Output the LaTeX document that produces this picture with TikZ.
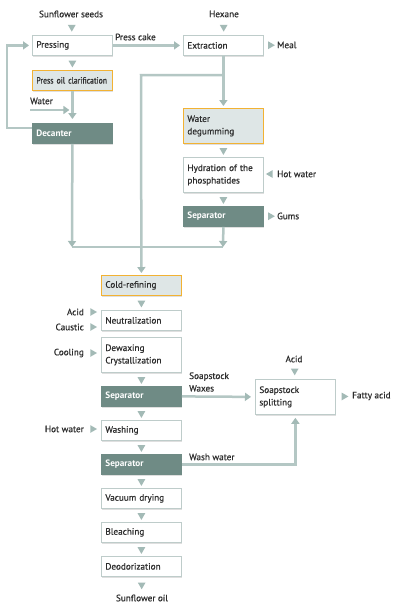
\documentclass[tikz,border=0pt]{standalone}
\usepackage{fontspec}
\setmainfont{PT Sans}
\newfontface\semib{PT Sans}[FakeBold=0.6]
\newfontface\narrowsemib{PT Sans}[FakeBold=0.6,FakeStretch=0.86]
\usetikzlibrary{arrows.meta,shadows,shapes.geometric}
\definecolor{lineC}{RGB}{180,199,196}
\definecolor{triC}{RGB}{163,186,182}
\definecolor{boxC}{RGB}{190,204,202}
\definecolor{orangeC}{RGB}{242,178,51}
\definecolor{lightC}{RGB}{222,230,230}
\definecolor{darkC}{RGB}{111,139,133}
\definecolor{txtC}{RGB}{45,45,45}
\newcommand{\fs}{\semib\fontsize{9.2}{12.5}\selectfont}
\newcommand{\fsb}{\normalfont\bfseries\fontsize{9.2}{12.5}\selectfont}
\tikzset{
  box/.style={draw=boxC, line width=0.8pt, fill=white, anchor=north west,
    minimum width=80pt, minimum height=20pt, text width=72pt, inner xsep=4pt,
    inner ysep=2pt, align=left, font=\fs, text=txtC,
    drop shadow={shadow xshift=1pt, shadow yshift=-1.2pt, opacity=0.25, fill=gray}},
  hibox/.style={box, draw=orangeC, fill=lightC},
  darkbox/.style={box, draw=darkC, fill=darkC, text=white, font=\fsb},
  tall/.style={minimum height=35pt},
  lbl/.style={font=\fs, text=txtC, inner sep=0pt},
  tri/.style={regular polygon, regular polygon sides=3, fill=triC, minimum size=9pt, inner sep=0pt},
  trid/.style={tri, shape border rotate=180},
  trir/.style={tri, shape border rotate=-90},
  tril/.style={tri, shape border rotate=90},
  flow/.style={draw=lineC, line width=2.5pt, -{Triangle[width=8pt,length=6pt,color=triC]}},
  plain/.style={draw=lineC, line width=2.5pt},
}
\begin{document}
\begin{tikzpicture}[x=1pt,y=-1pt]
\useasboundingbox[fill=white] (0,0) rectangle (401,606);

% boxes
\node[box] (press) at (32,35) {Pressing};
\node[hibox] (clar) at (32,70) {\narrowsemib\fontsize{9}{12}\selectfont Press oil clarification};
\node[darkbox] (dec) at (32,123) {Decanter};
\node[box] (extr) at (183,35) {Extraction};
\node[hibox, tall] (wdeg) at (183,108) {Water\\degumming};
\node[box, tall] (hydr) at (183,157) {Hydration of the\\phosphatides};
\node[darkbox] (sep1) at (183,206) {Separator};
\node[hibox] (cold) at (101,275) {Cold-refining};
\node[box] (neut) at (101,310) {Neutralization};
\node[box, tall] (dewax) at (101,337) {Dewaxing\\Crystallization};
\node[darkbox] (sep2) at (101,386) {Separator};
\node[box] (wash) at (101,420) {Washing};
\node[darkbox] (sep3) at (101,454) {Separator};
\node[box] (vac) at (101,488) {Vacuum drying};
\node[box] (bleach) at (101,522) {Bleaching};
\node[box] (deod) at (101,556) {Deodorization};
\node[box, tall] (split) at (255,379) {Soapstock\\splitting};

% labels
\node[lbl] (seeds) at (71,14) {Sunflower seeds};
\node[lbl] (hex) at (224,14) {Hexane};
\node[lbl, anchor=west] (meal) at (277,45) {Meal};
\node[lbl, anchor=west] (hotw1) at (277,174) {Hot water};
\node[lbl, anchor=west] (gums) at (277,216) {Gums};
\node[lbl, anchor=east] (acidL) at (84,312) {Acid};
\node[lbl, anchor=east] (caus) at (84,327) {Caustic};
\node[lbl, anchor=east] (cool) at (84,353) {Cooling};
\node[lbl, anchor=east] (hotw2) at (84,429) {Hot water};
\node[lbl] (acidT) at (294,359) {Acid};
\node[lbl, anchor=west] (fatty) at (352,396) {Fatty acid};
\node[lbl] (oil) at (142,598) {Sunflower oil};
\node[lbl, anchor=west] (water) at (30,101) {Water};
\node[lbl, anchor=west] (cake) at (115,37) {Press cake};
\node[lbl, anchor=west, align=left] (soap) at (189,382) {Soapstock\\Waxes};
\node[lbl, anchor=west] (ww) at (189,457) {Wash water};

% coordinates
\coordinate (j1) at (141,75);
\coordinate (jl) at (72,247);
\coordinate (jr) at (223,247);
\coordinate (lp) at (7,128);
\coordinate (wst) at (30,110);

% connectors
\draw[flow, shorten >=3pt] (press.east) -- (extr.west);
\draw[flow, shorten >=2pt] (extr.south) -- (wdeg.north);
\draw[flow, shorten >=2pt] (extr.south |- j1) -- (j1) -- (cold.north);
\draw[plain] (jl) -- (jr);
\draw[flow] (dec.south) -- (jl);
\draw[flow] (sep1.south) -- (jr);
\draw[flow, shorten >=3pt] (dec.west |- lp) -- (lp) |- (press.west);
\draw[flow, shorten >=4pt] (clar.south) -- (dec.north);
\draw[flow, shorten >=3pt] (wst) -- (clar.south |- wst);
\draw[flow, shorten >=4pt] (sep2.east) -- (split.west);
\draw[flow, shorten >=3pt] (sep3.east) -| (split.south);

% triangle markers
\path (seeds.south) -- node[trid, pos=0.55]{} (press.north);
\path (press.south) -- node[trid]{} (clar.north);
\path (hex.south) -- node[trid, pos=0.55]{} (extr.north);
\path (extr.east) -- node[trir]{} (meal.west);
\path (wdeg.south) -- node[trid]{} (hydr.north);
\path (hotw1.west) -- node[tril]{} (hotw1.west -| hydr.east);
\path (hydr.south) -- node[trid]{} (sep1.north);
\path (sep1.east) -- node[trir]{} (gums.west);
\path (cold.south) -- node[trid]{} (neut.north);
\path (acidL.east) -- node[trir]{} (acidL.east -| neut.west);
\path (caus.east) -- node[trir]{} (caus.east -| neut.west);
\path (cool.east) -- node[trir]{} (cool.east -| dewax.west);
\path (dewax.south) -- node[trid]{} (sep2.north);
\path (sep2.south) -- node[trid]{} (wash.north);
\path (hotw2.east) -- node[trir]{} (hotw2.east -| wash.west);
\path (wash.south) -- node[trid]{} (sep3.north);
\path (sep3.south) -- node[trid]{} (vac.north);
\path (vac.south) -- node[trid]{} (bleach.north);
\path (bleach.south) -- node[trid]{} (deod.north);
\path (deod.south) -- node[trid, pos=0.45]{} (oil.north);
\path (acidT.south) -- node[trid, pos=0.5]{} (split.north);
\path (split.east) -- node[trir]{} (fatty.west);
\end{tikzpicture}
\end{document}
